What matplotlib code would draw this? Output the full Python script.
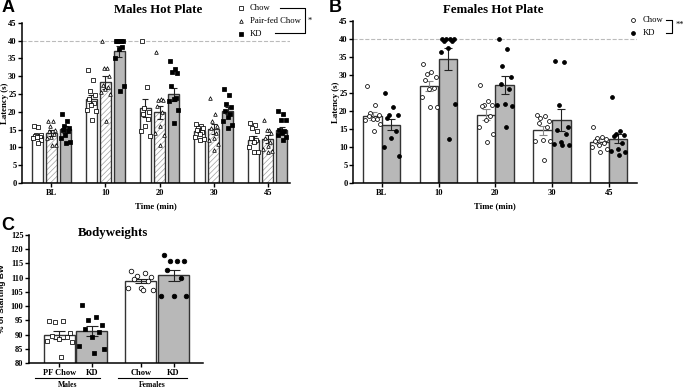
import numpy as np
import matplotlib
matplotlib.use('Agg')
import matplotlib.pyplot as plt
from matplotlib.lines import Line2D

plt.rcParams['font.family'] = ['Liberation Serif', 'DejaVu Serif']
plt.rcParams['hatch.linewidth'] = 0.5

W, H = 685, 388

times = ['BL', '10', '20', '30', '45']

# Males hot plate (latency, s)
m_chow_mean = [13.3, 23.6, 21.0, 14.7, 12.2]
m_chow_sem = [0.5, 1.2, 2.5, 0.6, 1.0]
m_pf_mean = [14.0, 28.3, 19.8, 15.2, 12.3]
m_pf_sem = [0.8, 1.8, 1.8, 1.4, 1.1]
m_kd_mean = [15.1, 37.0, 24.9, 20.3, 14.8]
m_kd_sem = [1.0, 1.5, 1.8, 1.0, 0.8]

m_chow_pts = [
    [15.8, 16.0, 13.6, 13.2, 12.9, 12.5, 12.0, 11.3, 13.4, 12.8],
    [31.8, 28.8, 25.8, 24.8, 23.5, 22.5, 21.8, 20.2, 20.5, 17.8],
    [40.0, 26.9, 21.0, 20.0, 19.5, 18.0, 16.0, 14.5, 13.3],
    [16.5, 16.0, 15.5, 15.3, 14.8, 14.3, 13.8, 13.0, 12.0, 12.3],
    [16.8, 16.3, 15.5, 14.5, 12.5, 12.0, 11.5, 10.0, 8.8, 8.8],
]
m_pf_pts = [
    [17.3, 17.3, 15.9, 15.0, 14.5, 13.8, 12.8, 12.5, 10.8, 10.7],
    [40.0, 32.3, 32.3, 30.0, 27.5, 27.0, 26.5, 25.5, 25.0, 17.3],
    [36.8, 23.7, 23.3, 23.3, 21.5, 20.0, 16.0, 14.0, 13.5, 10.8],
    [24.0, 19.5, 17.5, 16.0, 15.5, 14.0, 12.5, 12.0, 11.0, 9.2],
    [17.8, 15.0, 14.8, 14.0, 12.5, 11.5, 10.5, 9.5, 9.0, 8.8],
]
m_kd_pts = [
    [19.5, 17.5, 16.0, 15.5, 15.0, 14.7, 13.5, 12.5, 11.5, 11.2],
    [40.0, 40.0, 40.0, 40.0, 40.0, 38.2, 37.5, 35.2, 27.3, 25.7],
    [34.2, 32.0, 31.3, 30.8, 27.3, 24.0, 23.5, 23.0, 20.5, 16.8],
    [26.3, 24.8, 22.3, 21.3, 20.3, 19.5, 18.5, 17.5, 16.3, 15.5],
    [20.3, 19.5, 17.8, 17.8, 15.0, 14.5, 14.0, 13.5, 13.0, 12.0],
]

# Females hot plate (latency, s)
f_chow_mean = [18.7, 26.9, 19.0, 14.6, 11.5]
f_chow_sem = [1.1, 1.3, 1.5, 1.3, 0.7]
f_kd_mean = [16.2, 34.5, 27.2, 17.5, 12.3]
f_kd_sem = [1.6, 3.0, 2.5, 3.0, 1.3]

f_chow_pts = [
    [26.9, 21.8, 19.5, 18.8, 18.5, 17.8, 17.8, 17.5, 16.5, 14.5],
    [33.0, 30.8, 30.2, 29.5, 28.5, 26.5, 26.0, 24.0, 21.0, 21.0],
    [27.2, 22.8, 21.8, 21.8, 21.5, 18.5, 17.5, 15.5, 13.5, 11.3],
    [19.0, 18.5, 18.0, 17.3, 16.8, 15.5, 12.0, 11.8, 11.8, 6.3],
    [15.5, 12.8, 12.5, 12.3, 11.8, 11.0, 10.5, 10.0, 9.5, 8.5],
]
f_kd_pts = [
    [25.0, 21.0, 19.0, 19.0, 18.0, 14.5, 12.5, 10.0, 7.5],
    [40.0, 40.0, 40.0, 40.0, 39.5, 39.5, 37.5, 36.5, 22.0, 12.3],
    [40.0, 37.2, 32.5, 29.5, 27.5, 26.0, 22.0, 21.8, 21.5, 15.5],
    [33.8, 33.5, 21.8, 15.5, 14.8, 13.5, 11.5, 10.8, 10.5, 10.5],
    [24.0, 14.5, 13.5, 13.2, 13.0, 11.0, 9.5, 8.8, 8.5, 7.8],
]

# Bodyweights (% of starting BW)
bw_labels = ['PF Chow', 'KD', 'Chow', 'KD']
bw_mean = [89.8, 91.3, 108.8, 110.8]
bw_sem = [1.3, 1.8, 0.8, 1.8]
bw_pts = [
    [94.8, 94.8, 94.5, 90.5, 89.5, 89.0, 88.5, 87.8, 87.5, 82.0],
    [100.5, 96.3, 95.0, 93.3, 92.0, 91.0, 89.3, 86.0, 85.0, 83.5],
    [112.5, 111.5, 110.5, 110.3, 109.5, 108.7, 106.5, 106.3, 105.7, 105.5],
    [118.0, 116.0, 116.0, 115.8, 112.7, 110.0, 103.5, 103.5, 103.5],
]

OFFS = [-0.32, 0.12, -0.12, 0.34, -0.22, 0.24, 0.0, -0.4, 0.4, 0.06, -0.06]


def fx(x):
    return x / W


def fy(y):
    return 1 - y / H


def ax_at(left, top, right, bottom):
    return fig.add_axes([fx(left), fy(bottom), (right - left) / W, (bottom - top) / H])


def style_axis(ax):
    for s in ['top', 'right']:
        ax.spines[s].set_visible(False)
    for s in ['left', 'bottom']:
        ax.spines[s].set_linewidth(1.1)
    ax.tick_params(axis='both', length=3, width=1, pad=1.0, labelsize=6)
    for lab in ax.get_xticklabels() + ax.get_yticklabels():
        lab.set_fontweight('bold')


def draw_bars(ax, xs, means, sems, pts, width, face, marker, mfc, hatch=None,
              ms=2.6, ecolor='#222222', capsize=2.2):
    if hatch:
        ax.bar(xs, means, width, color='white', edgecolor='#a0a0a0', hatch=hatch,
               linewidth=0, zorder=1)
        ax.bar(xs, means, width, fill=False, edgecolor='#333333', linewidth=1, zorder=2)
    else:
        ax.bar(xs, means, width, color=face, edgecolor='#333333', linewidth=1, zorder=2)
    ax.errorbar(xs, means, yerr=sems, fmt='none', ecolor=ecolor, elinewidth=0.8,
                capsize=capsize, capthick=0.8, zorder=3)
    for x, p in zip(xs, pts):
        p = np.sort(np.array(p))[::-1]
        o = np.array(OFFS[:len(p)]) * width
        ax.plot(x + o, p, linestyle='none', marker=marker, ms=ms, mfc=mfc,
                mec='black', mew=0.55, zorder=4, clip_on=False)


fig = plt.figure(figsize=(W / 100, H / 100), dpi=100)

# ---------------- Panel A: males ----------------
axA = ax_at(22, 22.7, 290, 183)
x = np.arange(len(times))
bw = 0.2
draw_bars(axA, x - 0.26, m_chow_mean, m_chow_sem, m_chow_pts, bw, 'white', 's', 'white')
draw_bars(axA, x, m_pf_mean, m_pf_sem, m_pf_pts, bw, 'white', '^', 'white', hatch='//////')
draw_bars(axA, x + 0.26, m_kd_mean, m_kd_sem, m_kd_pts, bw, '#b8b8b8', 's', 'black')
axA.axhline(40, color='#bbbbbb', lw=0.8, ls='--', zorder=0)
axA.set_xlim(-0.54, 4.41)
axA.set_ylim(0, 45)
axA.set_yticks(np.arange(0, 46, 5))
axA.set_xticks(x)
axA.set_xticklabels(times)
axA.set_ylabel('Latency (s)', fontsize=6.3, fontweight='bold')
axA.yaxis.set_label_coords((9 - 22) / 268, 0.5)
axA.set_xlabel('Time (min)', fontsize=6.3, fontweight='bold', labelpad=4)
style_axis(axA)
fig.text(fx(158), fy(10), 'Males Hot Plate', ha='center', va='center',
         fontsize=9.3, fontweight='bold')

# legend A
leg_a = [('Chow', 's', 'white', 8), ('Pair-fed Chow', '^', 'white', 21), ('KD', 's', 'black', 34)]
for lab, mk, mf, yy in leg_a:
    fig.add_artist(Line2D([fx(241)], [fy(yy)], marker=mk, ms=2.6, mfc=mf, mec='black',
                          mew=0.55, linestyle='none', transform=fig.transFigure))
    fig.text(fx(250), fy(yy), lab, ha='left', va='center', fontsize=6.2)
fig.add_artist(Line2D([fx(280), fx(305), fx(305), fx(275)], [fy(8), fy(8), fy(33), fy(33)],
                      color='black', lw=0.8, transform=fig.transFigure))
fig.text(fx(310), fy(21), '*', ha='center', va='center', fontsize=6)

# ---------------- Panel B: females ----------------
axB = ax_at(353, 21, 637, 183)
bwf = 0.325
draw_bars(axB, x - 0.165, f_chow_mean, f_chow_sem, f_chow_pts, bwf, 'white', 'o', 'white',
          ecolor='#888888', ms=2.8, capsize=3)
draw_bars(axB, x + 0.165, f_kd_mean, f_kd_sem, f_kd_pts, bwf, '#b8b8b8', 'o', 'black',
          ms=2.8, capsize=3)
axB.axhline(40, color='#bbbbbb', lw=0.8, ls='--', zorder=0)
axB.set_xlim(-0.51, 4.5)
axB.set_ylim(0, 45)
axB.set_yticks(np.arange(0, 46, 5))
axB.set_xticks(x)
axB.set_xticklabels(times)
axB.set_ylabel('Latency (s)', fontsize=6.3, fontweight='bold')
axB.yaxis.set_label_coords((340 - 353) / 284, 0.5)
axB.set_xlabel('Time (min)', fontsize=6.3, fontweight='bold', labelpad=4)
style_axis(axB)
fig.text(fx(493), fy(10), 'Females Hot Plate', ha='center', va='center',
         fontsize=9.3, fontweight='bold')

leg_b = [('Chow', 'white', 20), ('KD', 'black', 33)]
for lab, mf, yy in leg_b:
    fig.add_artist(Line2D([fx(633)], [fy(yy)], marker='o', ms=2.8, mfc=mf, mec='black',
                          mew=0.55, linestyle='none', transform=fig.transFigure))
    fig.text(fx(643), fy(yy), lab, ha='left', va='center', fontsize=6.2)
fig.add_artist(Line2D([fx(666), fx(672), fx(672), fx(666)], [fy(19.5), fy(19.5), fy(33), fy(33)],
                      color='black', lw=0.8, transform=fig.transFigure))
fig.text(fx(680), fy(25), '**', ha='center', va='center', fontsize=6)

# ---------------- Panel C: bodyweights ----------------
axC = ax_at(29, 235, 203, 363)
xc = [0, 1, 2.5, 3.5]
bw_face = ['white', '#b8b8b8', 'white', '#b8b8b8']
bw_mark = ['s', 's', 'o', 'o']
bw_mfc = ['white', 'black', 'white', 'black']
for i in range(4):
    draw_bars(axC, [xc[i]], [bw_mean[i]], [bw_sem[i]], [bw_pts[i]], 0.95, bw_face[i],
              bw_mark[i], bw_mfc[i], ms=3.3, capsize=4)
axC.set_xlim(-0.92, 4.4)
axC.set_ylim(80, 125)
axC.set_yticks(np.arange(80, 126, 5))
axC.set_xticks(xc)
axC.set_xticklabels(bw_labels)
axC.set_ylabel('% of Starting BW', fontsize=6, fontweight='bold',
               family=['Liberation Sans', 'DejaVu Sans'])
axC.yaxis.set_label_coords((6 - 29) / 174, 0.5)
style_axis(axC)
fig.text(fx(113), fy(233), 'Bodyweights', ha='center', va='center',
         fontsize=9.3, fontweight='bold')
for (x0, x1, lab) in [(35, 100, 'Males'), (118, 187, 'Females')]:
    fig.add_artist(Line2D([fx(x0), fx(x1)], [fy(378), fy(378)], color='black', lw=0.8,
                          transform=fig.transFigure))
    fig.text(fx((x0 + x1) / 2), fy(385), lab, ha='center', va='center', fontsize=5.5,
             fontweight='bold')

# panel letters
for lab, px, py in [('A', 2, 8), ('B', 329, 8), ('C', 1, 225)]:
    fig.text(fx(px), fy(py), lab, ha='left', va='center', fontsize=13, fontweight='bold',
             family=['Liberation Sans', 'DejaVu Sans'])

fig.savefig('out.png', dpi=100)
